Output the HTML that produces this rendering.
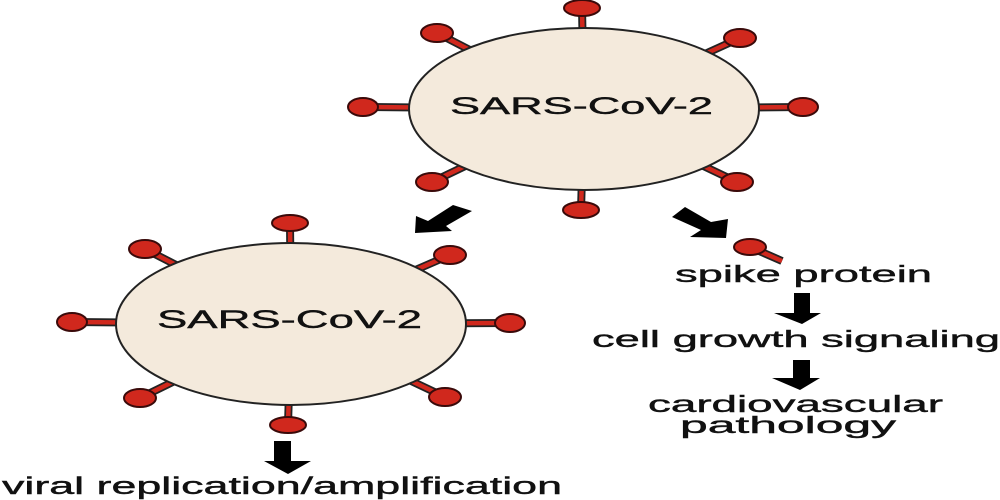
<!DOCTYPE html>
<html><head><meta charset="utf-8"><style>html,body{margin:0;padding:0;background:#fff}svg{display:block}</style></head><body>
<svg width="1000" height="500" viewBox="0 0 1000 500" xmlns="http://www.w3.org/2000/svg" font-family="Liberation Sans, Arial, sans-serif" fill="#111">
<g stroke-linecap="butt">
<g stroke="#222" stroke-width="8">
<line x1="584" y1="109" x2="582" y2="8"/><line x1="584" y1="109" x2="437" y2="33"/><line x1="584" y1="109" x2="740" y2="38"/>
<line x1="584" y1="109" x2="363" y2="107"/><line x1="584" y1="109" x2="803" y2="107"/><line x1="584" y1="109" x2="432" y2="182"/>
<line x1="584" y1="109" x2="737" y2="182"/><line x1="584" y1="109" x2="581" y2="210"/>
<line x1="291" y1="324" x2="290" y2="223"/><line x1="291" y1="324" x2="145" y2="249"/><line x1="291" y1="324" x2="450" y2="255"/>
<line x1="291" y1="324" x2="72" y2="322"/><line x1="291" y1="324" x2="510" y2="323"/><line x1="291" y1="324" x2="140" y2="398"/>
<line x1="291" y1="324" x2="445" y2="397"/><line x1="291" y1="324" x2="288" y2="425"/>
<line x1="750" y1="247" x2="782" y2="261"/>
</g>
<g stroke="#d0281d" stroke-width="4.5">
<line x1="584" y1="109" x2="582" y2="8"/><line x1="584" y1="109" x2="437" y2="33"/><line x1="584" y1="109" x2="740" y2="38"/>
<line x1="584" y1="109" x2="363" y2="107"/><line x1="584" y1="109" x2="803" y2="107"/><line x1="584" y1="109" x2="432" y2="182"/>
<line x1="584" y1="109" x2="737" y2="182"/><line x1="584" y1="109" x2="581" y2="210"/>
<line x1="291" y1="324" x2="290" y2="223"/><line x1="291" y1="324" x2="145" y2="249"/><line x1="291" y1="324" x2="450" y2="255"/>
<line x1="291" y1="324" x2="72" y2="322"/><line x1="291" y1="324" x2="510" y2="323"/><line x1="291" y1="324" x2="140" y2="398"/>
<line x1="291" y1="324" x2="445" y2="397"/><line x1="291" y1="324" x2="288" y2="425"/>
<line x1="750" y1="247" x2="782" y2="261"/>
</g>
</g>
<ellipse cx="584" cy="109" rx="175" ry="81" fill="#f4eadc" stroke="#222" stroke-width="2"/>
<ellipse cx="291" cy="324" rx="175" ry="81" fill="#f4eadc" stroke="#222" stroke-width="2"/>
<g fill="#d0281d" stroke="#3a0a0a" stroke-width="2">
<ellipse cx="582" cy="8" rx="18" ry="8"/><ellipse cx="437" cy="33" rx="16" ry="9"/><ellipse cx="740" cy="38" rx="16" ry="9"/>
<ellipse cx="363" cy="107" rx="15" ry="9"/><ellipse cx="803" cy="107" rx="15" ry="9"/><ellipse cx="432" cy="182" rx="16" ry="9"/>
<ellipse cx="737" cy="182" rx="16" ry="9"/><ellipse cx="581" cy="210" rx="18" ry="8"/>
<ellipse cx="290" cy="223" rx="18" ry="8"/><ellipse cx="145" cy="249" rx="16" ry="9"/><ellipse cx="450" cy="255" rx="16" ry="9"/>
<ellipse cx="72" cy="322" rx="15" ry="9"/><ellipse cx="510" cy="323" rx="15" ry="9"/><ellipse cx="140" cy="398" rx="16" ry="9"/>
<ellipse cx="445" cy="397" rx="16" ry="9"/><ellipse cx="288" cy="425" rx="18" ry="8"/>
<ellipse cx="750" cy="247" rx="16" ry="8"/>
</g>
<g stroke="#111" stroke-width="0.4">
<text x="450" y="114" font-size="24" textLength="263" lengthAdjust="spacingAndGlyphs">SARS-CoV-2</text>
<text x="157" y="328" font-size="25" textLength="265" lengthAdjust="spacingAndGlyphs">SARS-CoV-2</text>
<text x="675" y="282" font-size="23" textLength="257" lengthAdjust="spacingAndGlyphs">spike protein</text>
<text x="592" y="347" font-size="23" textLength="408" lengthAdjust="spacingAndGlyphs">cell growth signaling</text>
<text x="648" y="412" font-size="23" textLength="295" lengthAdjust="spacingAndGlyphs">cardiovascular</text>
<text x="680" y="433" font-size="23" textLength="216" lengthAdjust="spacingAndGlyphs">pathology</text>
<text x="2" y="494" font-size="24" textLength="560" lengthAdjust="spacingAndGlyphs">viral replication/amplification</text>
</g>
<g fill="#000">
<polygon points="415,233 416,216 428,221 453,205 472,211 446,226 452,231"/>
<polygon points="672,217 685,207 711,222 728,219 726,238 690,237 701,230"/>
<polygon points="794,293 810,293 810,313 821,313 802,324 774,313 794,313"/>
<polygon points="793,360 810,360 810,378 820,378 800,390 772,378 793,378"/>
<polygon points="274,441 291,441 291,461 311,461 288,474 264,461 274,461"/>
</g>
</svg>
</body></html>
